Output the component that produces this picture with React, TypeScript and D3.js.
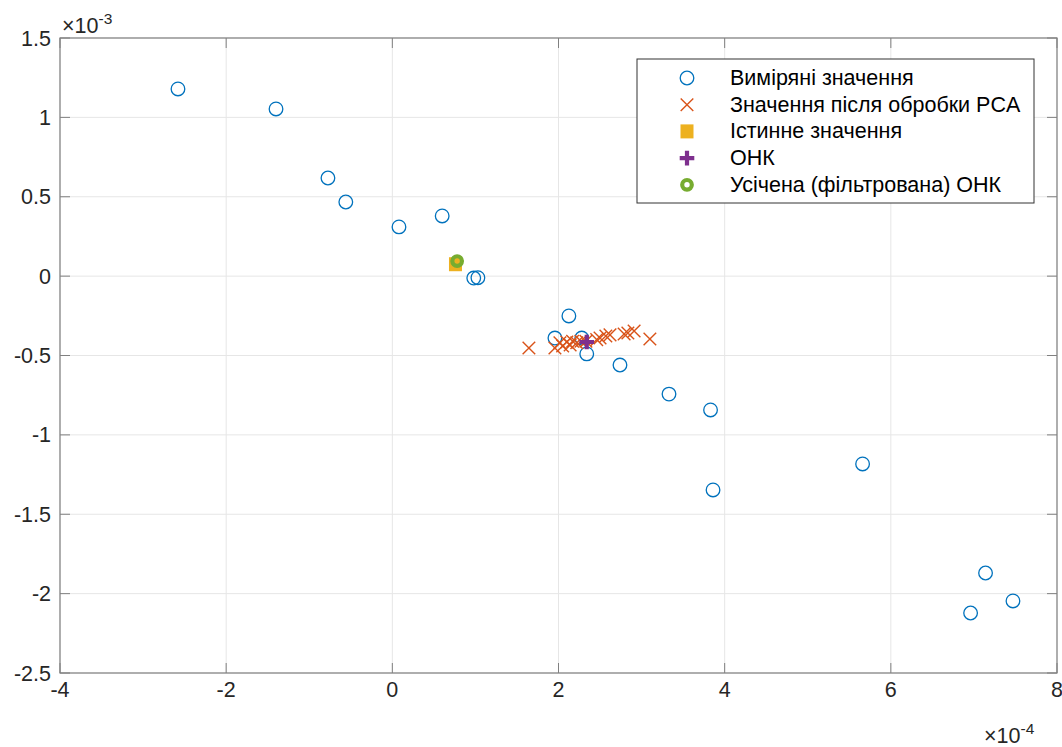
import React from "react";
import * as d3 from "d3";

const measuredX = [-2.58, -1.40, -0.775, -0.56, 0.08, 0.60, 0.98, 1.03, 2.125, 1.957, 2.28, 2.34, 2.74, 3.33, 3.83, 3.86, 5.66, 7.14, 6.96, 7.47];
const measuredY = [1.179, 1.053, 0.618, 0.467, 0.31, 0.379, -0.012, -0.01, -0.251, -0.39, -0.39, -0.49, -0.56, -0.743, -0.843, -1.347, -1.183, -1.87, -2.122, -2.046];

const pcaX = [1.644, 1.957, 2.017, 2.05, 2.10, 2.14, 2.17, 2.22, 2.27, 2.33, 2.46, 2.50, 2.57, 2.62, 2.79, 2.835, 2.91, 3.10];
const pcaY = [-0.453, -0.453, -0.42, -0.44, -0.415, -0.434, -0.41, -0.42, -0.41, -0.41, -0.40, -0.39, -0.377, -0.37, -0.365, -0.358, -0.346, -0.396];

const trueX = [0.76];
const trueY = [0.075];
const onkX = [2.34];
const onkY = [-0.415];
const truncX = [0.78];
const truncY = [0.095];

const xTicks = [-4, -2, 0, 2, 4, 6, 8];
const yTicks = [1.5, 1, 0.5, 0, -0.5, -1, -1.5, -2, -2.5];

const legendLabels = [
  "Виміряні значення",
  "Значення після обробки PCA",
  "Істинне значення",
  "ОНК",
  "Усічена (фільтрована) ОНК",
];

const C_BLUE = "#0072BD";
const C_ORANGE = "#D95319";
const C_YELLOW = "#EDB120";
const C_PURPLE = "#7E2F8E";
const C_GREEN = "#77AC30";

const FONT = "'Liberation Sans', Arial, Helvetica, sans-serif";

function Circle({ x, y }: { x: number; y: number }) {
  return <circle cx={x} cy={y} r={6.8} fill="none" stroke={C_BLUE} strokeWidth={1.3} />;
}
function Cross({ x, y }: { x: number; y: number }) {
  const s = 6.3;
  return (
    <path d={`M${x - s},${y - s}L${x + s},${y + s}M${x - s},${y + s}L${x + s},${y - s}`} stroke={C_ORANGE} strokeWidth={1.4} fill="none" />
  );
}
function Square({ x, y }: { x: number; y: number }) {
  return <rect x={x - 5.5} y={y - 6} width={11} height={12} fill={C_YELLOW} stroke={C_YELLOW} strokeWidth={2} />;
}
function Plus({ x, y }: { x: number; y: number }) {
  const s = 7.3;
  return <path d={`M${x - s},${y}L${x + s},${y}M${x},${y - s}L${x},${y + s}`} stroke={C_PURPLE} strokeWidth={4.2} fill="none" />;
}
function Ring({ x, y }: { x: number; y: number }) {
  return <circle cx={x} cy={y} r={4.8} fill="none" stroke={C_GREEN} strokeWidth={4.2} />;
}

export default function App() {
  const W = 1062, H = 747;
  const L = 60, R = 1057, T = 38, B = 673;
  const x = d3.scaleLinear().domain([-4, 8]).range([L, R]);
  const y = d3.scaleLinear().domain([-2.5, 1.5]).range([B, T]);
  const axisColor = "#808080";
  const fs = 21.5;

  const legX = 637, legY = 59, legW = 397, legH = 144;
  const rowY = (i: number) => legY + 19 + i * 26.7;

  return (
    <svg width={W} height={H} style={{ position: "absolute", left: 0, top: 0, background: "#fff" }} fontFamily={FONT}>
      <rect x={0} y={0} width={W} height={H} fill="#fff" />
      {/* grid */}
      {xTicks.map((t) => (
        <line key={"gx" + t} x1={x(t)} x2={x(t)} y1={T} y2={B} stroke="#e6e6e6" strokeWidth={1} />
      ))}
      {yTicks.map((t) => (
        <line key={"gy" + t} x1={L} x2={R} y1={y(t)} y2={y(t)} stroke="#e6e6e6" strokeWidth={1} />
      ))}
      {/* ticks */}
      {xTicks.map((t) => (
        <g key={"tx" + t}>
          <line x1={x(t)} x2={x(t)} y1={B} y2={B - 10} stroke={axisColor} />
          <line x1={x(t)} x2={x(t)} y1={T} y2={T + 10} stroke={axisColor} />
          <text x={x(t)} y={B + 24} textAnchor="middle" fontSize={fs} fill="#262626">{String(t)}</text>
        </g>
      ))}
      {yTicks.map((t) => (
        <g key={"ty" + t}>
          <line x1={L} x2={L + 10} y1={y(t)} y2={y(t)} stroke={axisColor} />
          <line x1={R} x2={R - 10} y1={y(t)} y2={y(t)} stroke={axisColor} />
          <text x={L - 9} y={y(t) + 7.5} textAnchor="end" fontSize={fs} fill="#262626">{String(t)}</text>
        </g>
      ))}
      {/* data */}
      {measuredX.map((v, i) => <Circle key={"m" + i} x={x(v)} y={y(measuredY[i])} />)}
      {pcaX.map((v, i) => <Cross key={"p" + i} x={x(v)} y={y(pcaY[i])} />)}
      {trueX.map((v, i) => <Square key={"t" + i} x={x(v)} y={y(trueY[i])} />)}
      {onkX.map((v, i) => <Plus key={"o" + i} x={x(v)} y={y(onkY[i])} />)}
      {truncX.map((v, i) => <Ring key={"r" + i} x={x(v)} y={y(truncY[i])} />)}
      {/* box */}
      <rect x={L} y={T} width={R - L} height={B - T} fill="none" stroke={axisColor} strokeWidth={1.2} />
      {/* exponents */}
      <text x={62} y={33} fontSize={fs} fill="#262626">
        <tspan>×10</tspan>
        <tspan dy={-9} fontSize={15.5}>-3</tspan>
      </text>
      <text x={984} y={743} fontSize={fs} fill="#262626">
        <tspan>×10</tspan>
        <tspan dy={-9} fontSize={15.5}>-4</tspan>
      </text>
      {/* legend */}
      <rect x={legX} y={legY} width={legW} height={legH} fill="#fff" stroke="#333" strokeWidth={1} />
      <Circle x={687} y={rowY(0)} />
      <Cross x={687} y={rowY(1)} />
      <Square x={687} y={rowY(2)} />
      <Plus x={687} y={rowY(3)} />
      <Ring x={687} y={rowY(4)} />
      {legendLabels.map((s, i) => (
        <text key={"l" + i} x={730} y={rowY(i) + 7} fontSize={fs} fill="#000">{s}</text>
      ))}
    </svg>
  );
}
